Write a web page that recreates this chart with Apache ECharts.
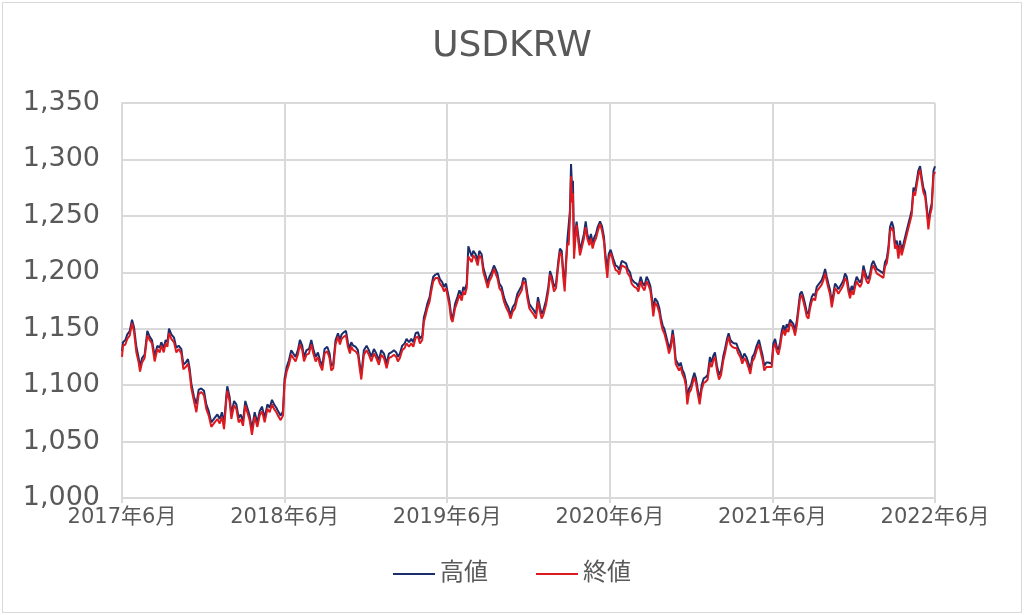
<!DOCTYPE html>
<html>
<head>
<meta charset="utf-8">
<script src="https://cdn.jsdelivr.net/npm/echarts@6/dist/echarts.min.js"></script>
<style>
  html, body { margin: 0; padding: 0; background: #fff; }
  .frame {
    position: absolute; left: 2px; top: 2px;
    width: 1018px; height: 609px;
    border: 1px solid #d9d9d9;
  }
  #UsdKrwChart { position: absolute; left: 0; top: 0; width: 1024px; height: 615px; }
</style>
</head>
<body>
<div class="frame"></div>
<div id="UsdKrwChart"></div>
<script>
// months counted from 2017年6月
const startYear = 2017
const startMonth = 6
const titleText = 'USDKRW'
const seriesNames = ['高値', '終値']

const months = [
  // 2017/6 - 2018/6
  0.00, 0.07, 0.25, 0.39, 0.57, 0.74, 0.89, 1.06, 1.23, 1.33, 1.48, 1.67, 1.87, 2.04, 2.21, 2.41, 2.61, 2.78, 2.90, 3.08,
  3.22, 3.35, 3.47, 3.64, 3.84, 4.01, 4.18, 4.38, 4.53, 4.70, 4.87, 4.99, 5.12, 5.31, 5.49, 5.66, 5.85, 6.05, 6.22, 6.40,
  6.59, 6.84, 7.04, 7.21, 7.38, 7.53, 7.70, 7.77, 7.95, 8.07, 8.27, 8.44, 8.61, 8.76, 8.93, 9.10, 9.25, 9.42, 9.59, 9.79,
  9.99, 10.16, 10.33, 10.53, 10.73, 10.90, 11.07, 11.22, 11.39, 11.51, 11.71, 11.88, 12.00,
  // 2018/6 - 2019/6
  12.15, 12.32, 12.49, 12.64, 12.81, 12.98, 13.13, 13.30, 13.43, 13.62, 13.80, 13.97, 14.12, 14.29, 14.46, 14.61, 14.78, 14.95, 15.15, 15.32,
  15.44, 15.59, 15.76, 15.94, 16.08, 16.21, 16.38, 16.53, 16.67, 16.82, 16.92, 17.07, 17.24, 17.41, 17.54, 17.66, 17.85, 18.05, 18.22, 18.40,
  18.59, 18.77, 18.96, 19.13, 19.33, 19.53, 19.70, 19.87, 20.07, 20.24, 20.36, 20.51, 20.68, 20.86, 21.00, 21.18, 21.35, 21.50, 21.67, 21.84,
  21.99, 22.16, 22.28, 22.41, 22.53, 22.70, 22.82, 22.97, 23.14, 23.32, 23.46, 23.64, 23.76, 23.91,
  // 2019/6 - 2020/6
  24.01, 24.16, 24.28, 24.40, 24.58, 24.75, 24.90, 25.07, 25.19, 25.31, 25.44, 25.56, 25.68, 25.81, 25.93, 26.10, 26.25, 26.37, 26.54, 26.67,
  26.84, 26.99, 27.11, 27.28, 27.45, 27.60, 27.70, 27.85, 28.02, 28.19, 28.34, 28.51, 28.68, 28.83, 29.00, 29.18, 29.32, 29.50, 29.62, 29.77,
  29.92, 30.06, 30.23, 30.41, 30.55, 30.70, 30.85, 30.97, 31.09, 31.29, 31.46, 31.59, 31.73, 31.88, 32.03, 32.20, 32.32, 32.45, 32.57, 32.67,
  32.77, 32.87, 32.96, 33.06, 33.14, 33.21, 33.28, 33.36, 33.46, 33.55, 33.68, 33.80, 33.92, 34.09, 34.22, 34.34, 34.49, 34.61, 34.73, 34.86,
  34.98, 35.10, 35.28, 35.42, 35.57, 35.69, 35.82, 35.92, 36.06,
  // 2020/6 - 2021/6
  36.14, 36.26, 36.43, 36.58, 36.70, 36.88, 37.05, 37.20, 37.32, 37.49, 37.61, 37.81, 37.98, 38.11, 38.28, 38.40, 38.56, 38.72, 38.84, 38.99,
  39.09, 39.21, 39.34, 39.51, 39.66, 39.78, 39.90, 40.02, 40.15, 40.27, 40.37, 40.52, 40.64, 40.74, 40.86, 40.98, 41.11, 41.23, 41.35, 41.50,
  41.62, 41.72, 41.85, 41.99, 42.12, 42.24, 42.36, 42.48, 42.63, 42.78, 42.93, 43.08, 43.22, 43.39, 43.52, 43.64, 43.76, 43.91, 44.06, 44.21,
  44.38, 44.50, 44.65, 44.77, 44.90, 45.04, 45.19, 45.34, 45.49, 45.63, 45.78, 45.93, 46.08, 46.22, 46.37, 46.52, 46.67, 46.84, 47.01, 47.16,
  47.28, 47.40, 47.55, 47.70, 47.82,
  // 2021/6 - 2022/6
  47.95, 48.07, 48.20, 48.32, 48.44, 48.57, 48.69, 48.81, 48.93, 49.06, 49.18, 49.30, 49.43, 49.55, 49.67, 49.80, 49.92, 50.04, 50.16, 50.29,
  50.41, 50.53, 50.66, 50.78, 50.90, 51.03, 51.15, 51.27, 51.39, 51.52, 51.64, 51.76, 51.89, 52.01, 52.13, 52.26, 52.38, 52.50, 52.62, 52.75,
  52.87, 52.99, 53.12, 53.24, 53.36, 53.49, 53.61, 53.73, 53.85, 53.98, 54.10, 54.22, 54.35, 54.47, 54.59, 54.72, 54.84, 54.96, 55.08, 55.21,
  55.33, 55.45, 55.58, 55.70, 55.82, 55.95, 56.07, 56.19, 56.31, 56.44, 56.56, 56.68, 56.81, 56.93, 57.05, 57.18, 57.30, 57.42, 57.54, 57.67,
  57.79, 57.91, 58.04, 58.16, 58.28, 58.41, 58.53, 58.65, 58.77, 58.90, 59.02, 59.14, 59.27, 59.39, 59.51, 59.64, 59.76, 59.89, 60.00
]

const highs = [
  1130, 1138, 1140, 1145, 1148, 1158, 1151, 1134, 1124, 1116, 1124, 1127, 1148, 1143, 1140, 1126, 1135, 1133, 1138, 1133,
  1140, 1138, 1150, 1145, 1142, 1133, 1135, 1132, 1118, 1120, 1123, 1115, 1101, 1090, 1083, 1096, 1097, 1095, 1083, 1077,
  1067, 1071, 1074, 1070, 1076, 1065, 1091, 1099, 1089, 1074, 1086, 1083, 1071, 1074, 1068, 1086, 1080, 1073, 1061, 1076,
  1067, 1077, 1081, 1071, 1083, 1080, 1087, 1083, 1080, 1077, 1073, 1077, 1106,

  1116, 1122, 1131, 1128, 1125, 1131, 1140, 1135, 1125, 1131, 1132, 1140, 1132, 1125, 1129, 1122, 1117, 1132, 1134, 1128,
  1117, 1119, 1140, 1146, 1140, 1145, 1147, 1148, 1138, 1132, 1138, 1135, 1134, 1131, 1119, 1109, 1131, 1135, 1131, 1125,
  1132, 1128, 1122, 1131, 1128, 1119, 1128, 1129, 1131, 1129, 1125, 1128, 1135, 1137, 1141, 1138, 1141, 1138, 1146, 1147,
  1141, 1144, 1160, 1166, 1172, 1178, 1187, 1196, 1198, 1199, 1194, 1191, 1187, 1190,

  1190, 1175, 1163, 1159, 1172, 1178, 1184, 1179, 1187, 1184, 1190, 1223, 1224, 1214, 1219, 1216, 1210, 1219, 1216, 1204,
  1197, 1190, 1196, 1200, 1206, 1202, 1199, 1190, 1187, 1178, 1173, 1169, 1162, 1169, 1172, 1181, 1184, 1188, 1195, 1194,
  1181, 1172, 1169, 1166, 1163, 1178, 1169, 1163, 1166, 1175, 1187, 1201, 1196, 1187, 1190, 1210, 1221, 1219, 1200, 1190,
  1210, 1229, 1228, 1255, 1296, 1275, 1281, 1220, 1236, 1245, 1232, 1220, 1225, 1234, 1245, 1234, 1228, 1234, 1226, 1231,
  1234, 1240, 1245, 1241, 1231, 1214, 1203, 1216, 1220,

  1219, 1212, 1206, 1205, 1202, 1210, 1209, 1208, 1203, 1200, 1194, 1191, 1190, 1187, 1196, 1191, 1188, 1196, 1193, 1188,
  1179, 1167, 1177, 1174, 1168, 1159, 1153, 1150, 1144, 1138, 1132, 1138, 1149, 1140, 1123, 1120, 1117, 1120, 1114, 1110,
  1103, 1088, 1097, 1100, 1106, 1111, 1106, 1097, 1087, 1100, 1106, 1107, 1109, 1125, 1120, 1126, 1129, 1117, 1109, 1113,
  1126, 1132, 1141, 1146, 1140, 1138, 1137, 1137, 1132, 1129, 1123, 1128, 1125, 1120, 1114, 1125, 1128, 1135, 1140, 1132,
  1126, 1117, 1120, 1120, 1120,

  1119, 1137, 1141, 1134, 1131, 1138, 1148, 1153, 1148, 1154, 1151, 1158, 1157, 1154, 1148, 1157, 1169, 1181, 1183, 1178,
  1172, 1165, 1163, 1172, 1178, 1181, 1179, 1187, 1187, 1191, 1193, 1197, 1203, 1196, 1190, 1184, 1173, 1181, 1190, 1188,
  1185, 1184, 1190, 1193, 1199, 1196, 1187, 1181, 1188, 1184, 1191, 1196, 1193, 1191, 1194, 1206, 1200, 1196, 1194, 1199,
  1207, 1210, 1209, 1203, 1204, 1201, 1200, 1199, 1209, 1212, 1222, 1240, 1245, 1240, 1225, 1228, 1216, 1228, 1219, 1225,
  1231, 1237, 1238, 1249, 1255, 1275, 1272, 1281, 1290, 1294, 1284, 1275, 1271, 1258, 1243, 1255, 1261, 1290, 1294
]

const closes = [
  1125, 1135, 1136, 1141, 1144, 1155, 1147, 1129, 1120, 1112, 1120, 1124, 1144, 1140, 1137, 1121, 1132, 1129, 1135, 1129,
  1137, 1134, 1146, 1141, 1138, 1129, 1132, 1128, 1114, 1116, 1119, 1111, 1097, 1086, 1076, 1092, 1094, 1091, 1079, 1073,
  1063, 1067, 1070, 1066, 1072, 1061, 1087, 1095, 1085, 1070, 1082, 1079, 1067, 1070, 1064, 1082, 1076, 1069, 1056, 1072,
  1063, 1073, 1077, 1067, 1079, 1076, 1083, 1079, 1076, 1073, 1069, 1073, 1102,

  1112, 1118, 1127, 1124, 1121, 1127, 1136, 1131, 1121, 1127, 1128, 1136, 1128, 1121, 1125, 1118, 1113, 1128, 1130, 1124,
  1113, 1115, 1136, 1143, 1136, 1141, 1143, 1144, 1134, 1128, 1134, 1131, 1130, 1127, 1115, 1105, 1127, 1131, 1127, 1121,
  1128, 1124, 1118, 1127, 1124, 1115, 1124, 1125, 1127, 1125, 1121, 1124, 1131, 1133, 1137, 1134, 1137, 1134, 1142, 1143,
  1137, 1140, 1156, 1162, 1168, 1174, 1183, 1192, 1195, 1195, 1190, 1187, 1183, 1186,

  1186, 1171, 1159, 1156, 1168, 1174, 1180, 1175, 1183, 1180, 1186, 1214, 1215, 1209, 1215, 1212, 1206, 1215, 1212, 1200,
  1193, 1186, 1192, 1196, 1203, 1198, 1195, 1186, 1183, 1174, 1169, 1165, 1159, 1165, 1168, 1177, 1180, 1184, 1192, 1190,
  1177, 1168, 1165, 1162, 1159, 1174, 1165, 1159, 1162, 1171, 1183, 1198, 1192, 1183, 1186, 1206, 1218, 1215, 1195, 1183,
  1206, 1226, 1224, 1248, 1285, 1262, 1270, 1212, 1230, 1242, 1227, 1215, 1221, 1230, 1240, 1230, 1224, 1230, 1221, 1227,
  1230, 1236, 1243, 1237, 1227, 1209, 1195, 1212, 1217,

  1215, 1208, 1202, 1201, 1198, 1206, 1205, 1204, 1199, 1196, 1190, 1187, 1186, 1183, 1192, 1187, 1184, 1192, 1189, 1184,
  1175, 1161, 1173, 1170, 1164, 1155, 1149, 1146, 1140, 1134, 1128, 1134, 1145, 1136, 1119, 1116, 1113, 1116, 1110, 1106,
  1099, 1083, 1093, 1096, 1102, 1107, 1102, 1093, 1083, 1096, 1102, 1103, 1105, 1120, 1116, 1122, 1125, 1113, 1105, 1109,
  1122, 1128, 1137, 1143, 1136, 1134, 1133, 1133, 1128, 1125, 1119, 1124, 1121, 1116, 1110, 1121, 1124, 1131, 1136, 1128,
  1122, 1113, 1116, 1116, 1116,

  1116, 1133, 1137, 1130, 1127, 1134, 1144, 1149, 1144, 1150, 1147, 1155, 1153, 1150, 1144, 1153, 1165, 1177, 1180, 1174,
  1168, 1161, 1159, 1168, 1174, 1177, 1175, 1183, 1183, 1187, 1189, 1193, 1199, 1192, 1186, 1180, 1169, 1177, 1186, 1184,
  1181, 1180, 1186, 1189, 1195, 1192, 1183, 1177, 1184, 1180, 1187, 1192, 1189, 1187, 1190, 1202, 1196, 1192, 1190, 1195,
  1203, 1206, 1205, 1199, 1200, 1197, 1196, 1195, 1205, 1208, 1218, 1236, 1240, 1236, 1221, 1224, 1212, 1224, 1215, 1221,
  1227, 1233, 1234, 1245, 1251, 1271, 1268, 1277, 1286, 1291, 1280, 1271, 1267, 1254, 1238, 1251, 1257, 1286, 1289
]

const yMin = 1000
const yMax = 1350
const yStep = 50
const xStepMonths = 12
const xMaxMonths = 60

const textColor = '#595959'
const gridColor = '#d9d9d9'
const fontFamily = '"DejaVu Sans", "Noto Sans CJK JP", sans-serif'

function monthLabel(v) {
  const total = startMonth - 1 + v
  const y = startYear + Math.floor(total / 12)
  const m = (total % 12) + 1
  return y + '年' + m + '月'
}

const chart = echarts.init(document.getElementById('UsdKrwChart'))
const option = {
  animation: false,
  title: {
    text: titleText,
    left: 'center',
    top: 24,
    textStyle: { color: textColor, fontSize: 36, fontWeight: 'normal', fontFamily: fontFamily }
  },
  legend: {
    data: seriesNames,
    bottom: 24,
    left: 'center',
    icon: 'rect',
    itemWidth: 42,
    itemHeight: 2,
    itemGap: 48,
    textStyle: { color: textColor, fontSize: 24, fontFamily: fontFamily }
  },
  grid: { left: 122, right: 89, top: 103, bottom: 117 },
  xAxis: {
    type: 'value',
    min: 0,
    max: xMaxMonths,
    interval: xStepMonths,
    axisLine: { lineStyle: { color: gridColor, width: 2 } },
    axisTick: { show: true, length: 5, lineStyle: { color: gridColor, width: 2 } },
    splitLine: { show: true, lineStyle: { color: gridColor, width: 2 } },
    axisLabel: {
      color: textColor, fontSize: 21, fontFamily: fontFamily, margin: 9,
      formatter: monthLabel
    }
  },
  yAxis: {
    type: 'value',
    min: yMin,
    max: yMax,
    interval: yStep,
    axisLine: { show: true, lineStyle: { color: gridColor, width: 2 } },
    axisTick: { show: false },
    splitLine: { lineStyle: { color: gridColor, width: 2 } },
    axisLabel: {
      color: textColor, fontSize: 27, fontFamily: fontFamily, margin: 22,
      formatter: v => v.toLocaleString('en-US')
    }
  },
  series: [
    {
      name: seriesNames[0],
      type: 'line',
      symbol: 'none',
      data: months.map((m, i) => [m, highs[i]]),
      lineStyle: { color: '#1b2d6b', width: 2 },
      itemStyle: { color: '#1b2d6b' }
    },
    {
      name: seriesNames[1],
      type: 'line',
      symbol: 'none',
      data: months.map((m, i) => [m, closes[i]]),
      lineStyle: { color: '#dc1a1f', width: 2 },
      itemStyle: { color: '#dc1a1f' }
    }
  ]
}
chart.setOption(option)
</script>
</body>
</html>
